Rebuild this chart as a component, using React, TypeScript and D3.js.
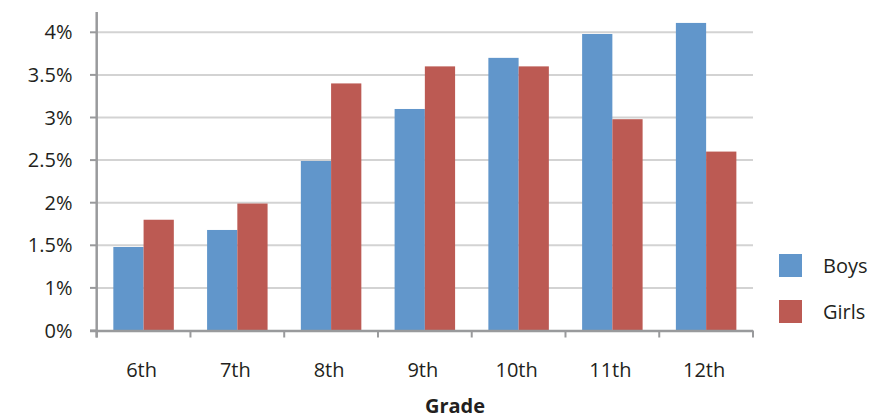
import React from "react";
import * as d3 from "d3";

const grades = ["6th", "7th", "8th", "9th", "10th", "11th", "12th"];
const series = ["Boys", "Girls"];
const boys = [1.48, 1.68, 2.49, 3.1, 3.7, 3.98, 4.11];
const girls = [1.8, 1.99, 3.4, 3.6, 3.6, 2.98, 2.6];
const tickValues = [0.5, 1, 1.5, 2, 2.5, 3, 3.5, 4];
const tickLabels = ["0%", "1%", "1.5%", "2%", "2.5%", "3%", "3.5%", "4%"];
const colors = ["#6196CB", "#BC5A53"];

const W = 875;
const H = 418;
const left = 96.7;
const right = 753;
const top = 32.3;
const bottom = 330.5;
const FONT = "'Open Sans', 'Noto Sans', sans-serif";

export default function App() {
  const x0 = d3.scaleBand<string>().domain(grades).range([left, right]).padding(0);
  const x1 = d3
    .scaleBand<string>()
    .domain(series)
    .range([0, x0.bandwidth()])
    .paddingInner(0)
    .paddingOuter(0.55);
  const y = d3.scaleLinear().domain([0.5, 4]).range([bottom, top]);
  const values = [boys, girls];

  return (
    <svg
      width={W}
      height={H}
      style={{ position: "absolute", left: 0, top: 0, background: "#fff" }}
      fontFamily={FONT}
    >
      {/* gridlines */}
      {tickValues.slice(1).map((t) => (
        <line key={"g" + t} x1={left} x2={right} y1={y(t)} y2={y(t)} stroke="#d3d3d3" strokeWidth={2} />
      ))}
      {/* bars */}
      {series.map((s, si) =>
        grades.map((g, gi) => (
          <rect
            key={s + g}
            x={(x0(g) as number) + (x1(s) as number)}
            y={y(values[si][gi])}
            width={x1.bandwidth()}
            height={y(0.5) - y(values[si][gi])}
            fill={colors[si]}
          />
        ))
      )}
      {/* y ticks and labels */}
      {tickValues.map((t, i) => (
        <g key={"t" + t}>
          <line x1={90} x2={left} y1={y(t)} y2={y(t)} stroke="#999a9c" strokeWidth={2} />
          <text
            x={72.5}
            y={y(t)}
            dy="0.35em"
            textAnchor="end"
            fontSize={20}
            fill="#231f20"
          >
            {tickLabels[i]}
          </text>
        </g>
      ))}
      {/* x axis */}
      <line x1={90} x2={right} y1={bottom + 0.5} y2={bottom + 0.5} stroke="#999a9c" strokeWidth={2.5} />
      {grades.map((g) => (
        <line
          key={"xt" + g}
          x1={x0(g) as number}
          x2={x0(g) as number}
          y1={bottom}
          y2={bottom + 7}
          stroke="#999a9c"
          strokeWidth={2}
        />
      ))}
      <line x1={right} x2={right} y1={bottom} y2={bottom + 7} stroke="#999a9c" strokeWidth={2} />
      {grades.map((g) => (
        <text
          key={"xl" + g}
          x={(x0(g) as number) + x0.bandwidth() / 2 - 2}
          y={377}
          textAnchor="middle"
          fontSize={20}
          fill="#231f20"
        >
          {g}
        </text>
      ))}
      {/* y axis line */}
      <line x1={left} x2={left} y1={12} y2={bottom + 7} stroke="#999a9c" strokeWidth={2.5} />
      {/* x axis title */}
      <text x={455} y={413} textAnchor="middle" fontSize={20} fontWeight="bold" fill="#231f20">
        Grade
      </text>
      {/* legend */}
      {series.map((s, i) => (
        <g key={"lg" + s} transform={`translate(779, ${254 + i * 46})`}>
          <rect width={23} height={23} fill={colors[i]} />
          <text x={44} y={11.5} dy="0.35em" fontSize={20} fill="#231f20">
            {s}
          </text>
        </g>
      ))}
    </svg>
  );
}
